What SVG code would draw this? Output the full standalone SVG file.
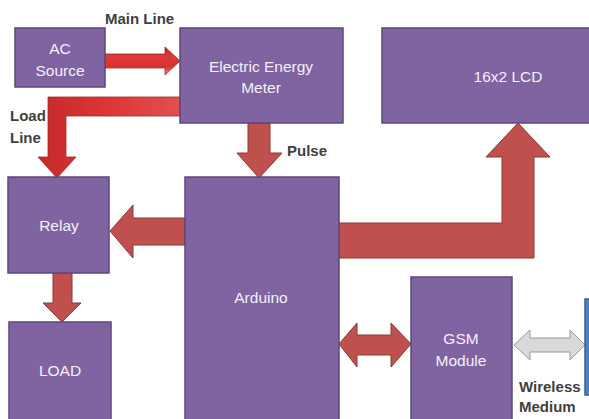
<svg xmlns="http://www.w3.org/2000/svg" width="589" height="419" viewBox="0 0 589 419">
<defs>
<style>
.box{fill:#8064A2;stroke:#5C4776;stroke-width:1.5}
.lbl{font-family:"Liberation Sans",Arial,sans-serif;font-size:15.5px;fill:#F4F0F8;text-anchor:middle}
.out{font-family:"Liberation Sans",Arial,sans-serif;font-size:15px;font-weight:bold;fill:#3F3F3F}
.arr{fill:#C0504D;stroke:#8C3836;stroke-width:1}
.arrb{stroke:#A02828;stroke-width:0.8}
</style>
<linearGradient id="gMain" x1="0" y1="0" x2="0" y2="1">
<stop offset="0" stop-color="#B01E1E"/>
<stop offset="0.3" stop-color="#E03838"/>
<stop offset="0.7" stop-color="#D93232"/>
<stop offset="1" stop-color="#F08A8A"/>
</linearGradient>
<linearGradient id="gLoad" x1="0" y1="0" x2="1" y2="0">
<stop offset="0" stop-color="#C42A2A"/>
<stop offset="0.5" stop-color="#DD3636"/>
<stop offset="1" stop-color="#E25050"/>
</linearGradient>
</defs>
<rect width="589" height="419" fill="#FFFFFF"/>
<g id="connectors">
<path class="arrb" fill="url(#gMain)" d="M105,54 H165 V47 L180,61 L165,75 V68 H105 Z"/>
<path class="arrb" fill="url(#gLoad)" d="M180,97 H48 V157 H38 L57,178 L76,157 H66 V116 H180 Z"/>
<path class="arr" d="M248,123 V153 H237 L259,178 L282,153 H270 V123 Z"/>
<path class="arr" d="M185,218 H133 V205 L110,231 L133,258 V245 H185 Z"/>
<path class="arr" d="M53,273 V303 H43 L62,322 L81,303 H72 V273 Z"/>
<path class="arr" d="M339,223 H502 V157 H486 L518,123 L550,157 H534 V258 H339 Z"/>
<path class="arr" d="M339,344 L357,323 V335 H391 V323 L411,344 L391,367 V355 H357 V367 Z"/>
<path fill="#D9D9D9" stroke="#9A9A9A" stroke-width="1" d="M514,345 L530,330 V338 H570 V330 L585,345 L570,360 V352 H530 V360 Z"/>
<text class="out" x="105" y="24">Main Line</text>
<text class="out" x="10" y="121">Load</text>
<text class="out" x="10" y="143">Line</text>
<text class="out" x="287" y="156">Pulse</text>
<text class="out" x="519" y="392" fill="#555555">Wireless</text>
<text class="out" x="519" y="412" fill="#555555">Medium</text>
</g>
<g id="ac-source">
<rect class="box" x="15" y="28" width="90" height="59"/>
<text class="lbl" x="60" y="54">AC</text>
<text class="lbl" x="60" y="76">Source</text>
</g>
<g id="energy-meter">
<rect class="box" x="180" y="28" width="163" height="95"/>
<text class="lbl" x="261" y="72">Electric Energy</text>
<text class="lbl" x="261" y="93">Meter</text>
</g>
<g id="lcd">
<rect class="box" x="382" y="28" width="212" height="95"/>
<text class="lbl" x="508" y="82">16x2 LCD</text>
</g>
<g id="relay">
<rect class="box" x="8" y="177" width="101" height="96"/>
<text class="lbl" x="59" y="231">Relay</text>
</g>
<g id="arduino">
<rect class="box" x="185" y="177" width="154" height="246"/>
<text class="lbl" x="261" y="303">Arduino</text>
</g>
<g id="load">
<rect class="box" x="9" y="322" width="102" height="101"/>
<text class="lbl" x="60" y="376">LOAD</text>
</g>
<g id="gsm">
<rect class="box" x="411" y="277" width="101" height="146"/>
<text class="lbl" x="461" y="344">GSM</text>
<text class="lbl" x="461" y="366">Module</text>
</g>
<g id="remote">
<rect x="585" y="299" width="12" height="96" fill="#4F81BD" stroke="#385D8A" stroke-width="1.5"/>
</g>
</svg>
